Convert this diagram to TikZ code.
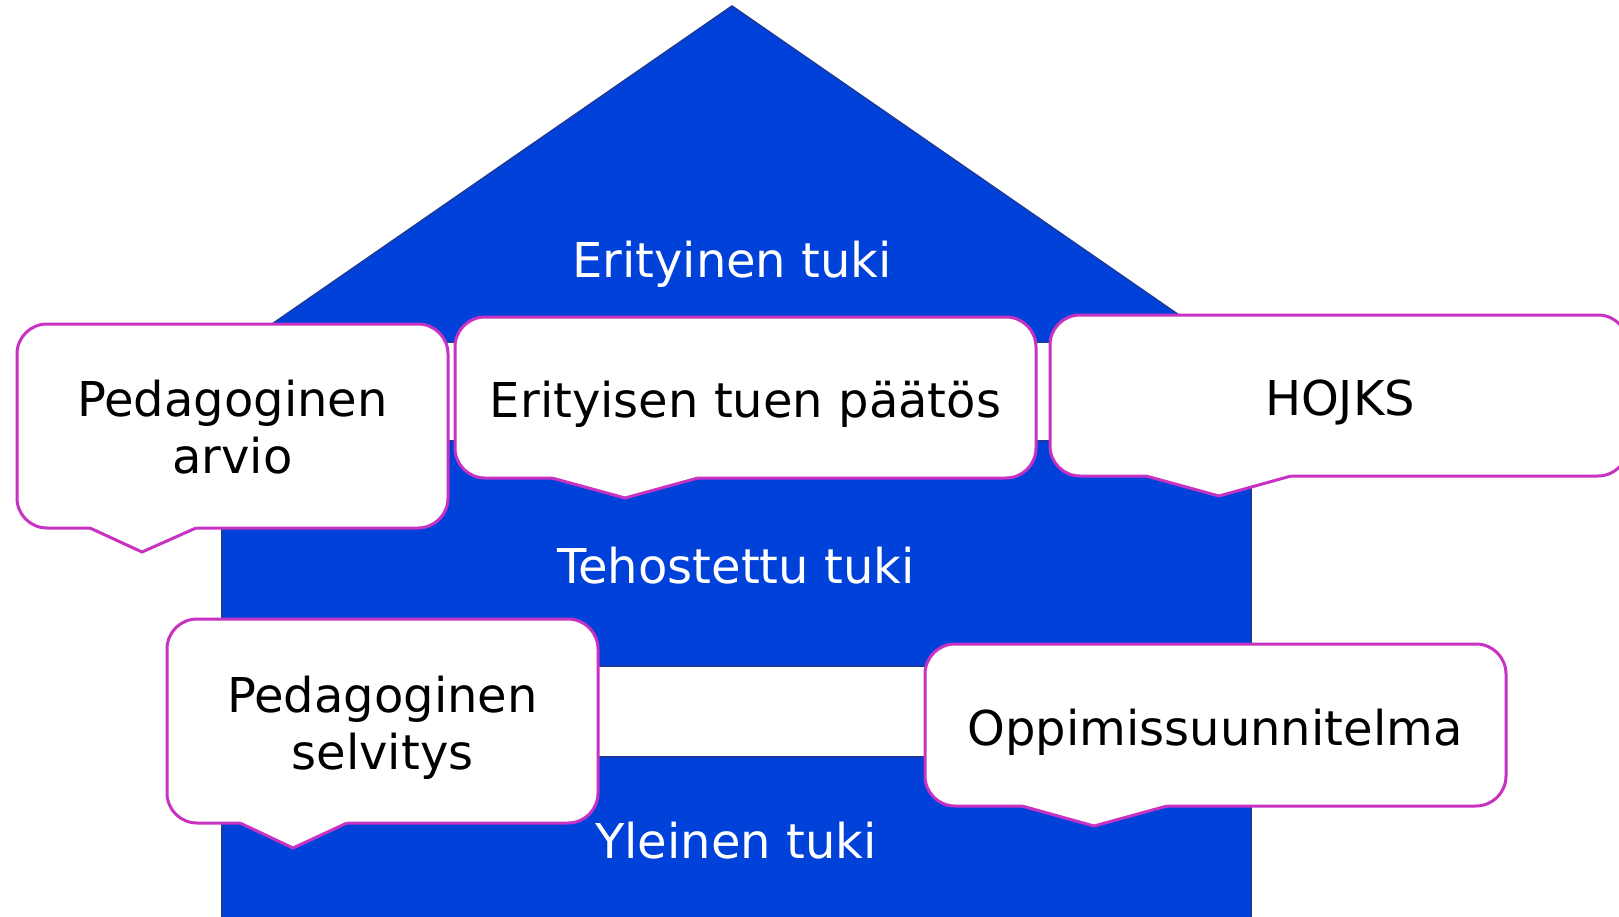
\documentclass[tikz,border=0pt]{standalone}
\usepackage{fontspec}
\setmainfont{DejaVu Sans}
\usetikzlibrary{calc}
\definecolor{houseblue}{RGB}{0,65,217}
\definecolor{houseline}{RGB}{28,58,155}
\definecolor{callmag}{RGB}{200,50,195}
\tikzset{
  housepart/.style={fill=houseblue,draw=houseline,line width=1.5pt,line join=miter},
  whitelabel/.style={text=white,inner sep=0pt,anchor=base,font=\fontsize{48}{57}\selectfont},
  blacklabel/.style={text=black,inner sep=0pt,anchor=base,font=\fontsize{48}{57}\selectfont},
  callbox/.style={draw=callmag,fill=white,line width=3pt,rounded corners=30pt,rectangle,inner sep=0pt,outer sep=0pt},
  callline/.style={draw=callmag,line width=3pt,line join=miter}
}
\newcommand\calltail[5]{%
  \coordinate (#1-tl) at (#2,0 |- #1.south);
  \coordinate (#1-tr) at (#3,0 |- #1.south);
  \coordinate (#1-tip) at (#4,#5);
  \fill[white] ($(#1-tl)+(0,-2)$) -- ($(#1-tr)+(0,-2)$) -- (#1-tr) -- (#1-tip) -- (#1-tl) -- cycle;
  \draw[callline] (#1-tl) -- (#1-tip) -- (#1-tr);
}
\begin{document}
\begin{tikzpicture}[x=1pt,y=-1pt]
\useasboundingbox (0,0) rectangle (1619,917);
\clip (0,0) rectangle (1619,917);
\fill[white] (0,0) rectangle (1619,917);
% house
\draw[housepart] (246,342) -- (732,6) -- (1218,342) -- cycle;
\draw[housepart] (222,441) rectangle (1251,666);
\draw[housepart] (222,757) rectangle (1251,930);
% level labels
\node[whitelabel] (erit) at (732,278) {Erityinen tuki};
\node[whitelabel] (teho) at (736,583) {Tehostettu tuki};
\node[whitelabel] (ylei) at (736,858) {Yleinen tuki};
% callouts
\node[callbox,minimum width=431pt,minimum height=204pt] (boxA) at (232.5,426) {};
\calltail{boxA}{90}{196}{142}{552}
\node[blacklabel] (txtA) at (232.5,416) {\begin{tabular}[t]{@{}c@{}}Pedagoginen\\arvio\end{tabular}};

\node[callbox,minimum width=581pt,minimum height=161pt] (boxB) at (745.5,397.5) {};
\calltail{boxB}{552}{698}{625}{498}
\node[blacklabel] (txtB) at (745.5,417) {Erityisen tuen päätös};

\node[callbox,minimum width=578pt,minimum height=161pt] (boxC) at (1339,395.5) {};
\calltail{boxC}{1146}{1291}{1219}{496}
\node[blacklabel] (txtC) at (1340,415) {HOJKS};

\node[callbox,minimum width=431pt,minimum height=204pt] (boxD) at (382.5,721) {};
\calltail{boxD}{240}{347}{293}{848}
\node[blacklabel] (txtD) at (382.5,712) {\begin{tabular}[t]{@{}c@{}}Pedagoginen\\selvitys\end{tabular}};

\node[callbox,minimum width=581pt,minimum height=162pt] (boxE) at (1215.5,725) {};
\calltail{boxE}{1022}{1167}{1094}{826}
\node[blacklabel] (txtE) at (1215,745) {Oppimissuunnitelma};
\end{tikzpicture}
\end{document}
